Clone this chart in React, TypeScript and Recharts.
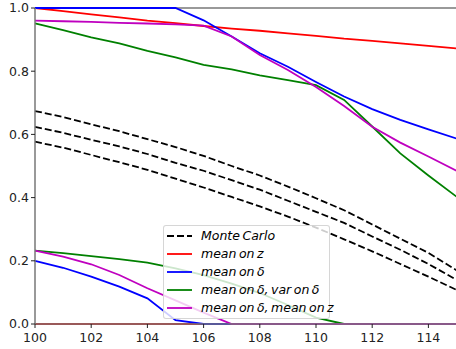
import React from 'react';
import { LineChart, Line, XAxis, YAxis, ReferenceLine, Legend } from 'recharts';

const xValues = [100, 101, 102, 103, 104, 105, 106, 107, 108, 109, 110, 111, 112, 113, 114, 115];

const monteCarloHigh = [0.674, 0.655, 0.632, 0.61, 0.585, 0.56, 0.532, 0.5, 0.47, 0.435, 0.398, 0.36, 0.315, 0.27, 0.225, 0.17];
const monteCarloMid = [0.624, 0.605, 0.583, 0.562, 0.538, 0.51, 0.485, 0.455, 0.425, 0.39, 0.355, 0.32, 0.277, 0.235, 0.19, 0.14];
const monteCarloLow = [0.577, 0.558, 0.535, 0.512, 0.488, 0.46, 0.432, 0.402, 0.372, 0.34, 0.305, 0.268, 0.23, 0.19, 0.15, 0.108];

const meanZUpper = [1.0, 0.99, 0.98, 0.97, 0.96, 0.952, 0.943, 0.935, 0.928, 0.92, 0.912, 0.903, 0.896, 0.888, 0.88, 0.872];
const meanZLower = [0, 0, 0, 0, 0, 0, 0, 0, 0, 0, 0, 0, 0, 0, 0, 0];

const meanDeltaUpper = [1.0, 1.0, 1.0, 1.0, 1.0, 1.0, 0.961, 0.91, 0.857, 0.814, 0.766, 0.72, 0.68, 0.646, 0.616, 0.587];
const meanDeltaLower = [0.2, 0.178, 0.15, 0.118, 0.081, 0.012, 0, 0, 0, 0, 0, 0, 0, 0, 0, 0];

const varDeltaUpper = [0.951, 0.93, 0.907, 0.888, 0.864, 0.844, 0.82, 0.806, 0.787, 0.772, 0.756, 0.709, 0.625, 0.54, 0.47, 0.403];
const varDeltaLower = [0.232, 0.224, 0.215, 0.205, 0.194, 0.176, 0.155, 0.128, 0.098, 0.06, 0.02, 0, 0, 0, 0, 0];

const meanDeltaZUpper = [0.96, 0.958, 0.956, 0.953, 0.951, 0.948, 0.944, 0.91, 0.851, 0.804, 0.75, 0.69, 0.624, 0.574, 0.53, 0.485];
const meanDeltaZLower = [0.232, 0.213, 0.189, 0.155, 0.113, 0.075, 0.036, 0, 0, 0, 0, 0, 0, 0, 0, 0];

const xTicks = [100, 102, 104, 106, 108, 110, 112, 114];
const yTicks = [0, 0.2, 0.4, 0.6, 0.8, 1.0];

const legendLabels = [
  'Monte Carlo',
  'mean on z',
  'mean on δ',
  'mean on δ, var on δ',
  'mean on δ, mean on z',
];
const legendColors = ['#000000', '#ff0000', '#0000ff', '#008000', '#bf00bf'];

const data = xValues.map((x, i) => ({
  x,
  mc1: monteCarloHigh[i],
  mc2: monteCarloMid[i],
  mc3: monteCarloLow[i],
  zU: meanZUpper[i],
  zL: meanZLower[i],
  dU: meanDeltaUpper[i],
  dL: meanDeltaLower[i],
  vU: varDeltaUpper[i],
  vL: varDeltaLower[i],
  mU: meanDeltaZUpper[i],
  mL: meanDeltaZLower[i],
}));

const FONT = '"DejaVu Sans", sans-serif';
const LW = 1.8;
const DASH = '7 3';

const LegendBox = () => (
  <div
    style={{
      boxSizing: 'border-box',
      width: 167,
      height: 94,
      background: 'rgba(255,255,255,0.8)',
      border: '1px solid rgba(204,204,204,0.8)',
      borderRadius: 3,
      paddingTop: 1,
      fontFamily: FONT,
      fontStyle: 'italic',
      fontSize: 12.5,
      color: '#000',
    }}
  >
    {legendLabels.map((label, i) => (
      <div key={label} style={{ display: 'flex', alignItems: 'center', height: 17.9, whiteSpace: 'nowrap' }}>
        <svg width={37} height={10} style={{ flex: 'none' }}>
          <line
            x1={3}
            x2={28}
            y1={5}
            y2={5}
            stroke={legendColors[i]}
            strokeWidth={LW}
            strokeDasharray={i === 0 ? DASH : undefined}
          />
        </svg>
        <span style={{ wordSpacing: '-1.5px' }}>{label}</span>
      </div>
    ))}
  </div>
);

export default function App() {
  return (
    <div style={{ position: 'absolute', left: 0, top: 0, width: 456, height: 349, overflow: 'hidden', background: '#fff' }}>
      <LineChart width={470} height={349} data={data} margin={{ top: 8, right: 13.5, bottom: 0, left: 0 }}>
        <XAxis
          dataKey="x"
          type="number"
          domain={[100, 115]}
          ticks={xTicks}
          height={25}
          tickSize={4}
          tickMargin={5}
          axisLine={{ stroke: '#777', strokeWidth: 1.5 }}
          tickLine={{ stroke: '#222' }}
          tick={{ fill: '#222', fontSize: 12.5, fontFamily: FONT }}
          interval={0}
        />
        <YAxis
          type="number"
          domain={[0, 1]}
          ticks={yTicks}
          width={35}
          tickSize={4}
          tickMargin={2}
          axisLine={{ stroke: '#777', strokeWidth: 1.5 }}
          tickLine={{ stroke: '#222' }}
          tick={{ fill: '#222', fontSize: 12.5, fontFamily: FONT }}
          tickFormatter={(v: number) => v.toFixed(1)}
          interval={0}
        />
        <ReferenceLine y={1} stroke="#777" strokeWidth={1.5} />
        <Line dataKey="mc1" stroke="#000" strokeWidth={LW} strokeDasharray={DASH} dot={false} isAnimationActive={false} />
        <Line dataKey="mc2" stroke="#000" strokeWidth={LW} strokeDasharray={DASH} dot={false} isAnimationActive={false} />
        <Line dataKey="mc3" stroke="#000" strokeWidth={LW} strokeDasharray={DASH} dot={false} isAnimationActive={false} />
        <Line dataKey="zU" stroke="#ff0000" strokeWidth={LW} dot={false} isAnimationActive={false} />
        <Line dataKey="zL" stroke="#ff0000" strokeWidth={LW} dot={false} isAnimationActive={false} />
        <Line dataKey="dU" stroke="#0000ff" strokeWidth={LW} dot={false} isAnimationActive={false} />
        <Line dataKey="dL" stroke="#0000ff" strokeWidth={LW} dot={false} isAnimationActive={false} />
        <Line dataKey="vU" stroke="#008000" strokeWidth={LW} dot={false} isAnimationActive={false} />
        <Line dataKey="vL" stroke="#008000" strokeWidth={LW} dot={false} isAnimationActive={false} />
        <Line dataKey="mU" stroke="#bf00bf" strokeWidth={LW} dot={false} isAnimationActive={false} />
        <Line dataKey="mL" stroke="#bf00bf" strokeWidth={LW} dot={false} isAnimationActive={false} />
        <Legend
          layout="horizontal"
          verticalAlign="middle"
          align="center"
          content={() => <LegendBox />}
          wrapperStyle={{ position: 'absolute', left: 163, top: 225, width: 167, height: 94 }}
        />
      </LineChart>
    </div>
  );
}
